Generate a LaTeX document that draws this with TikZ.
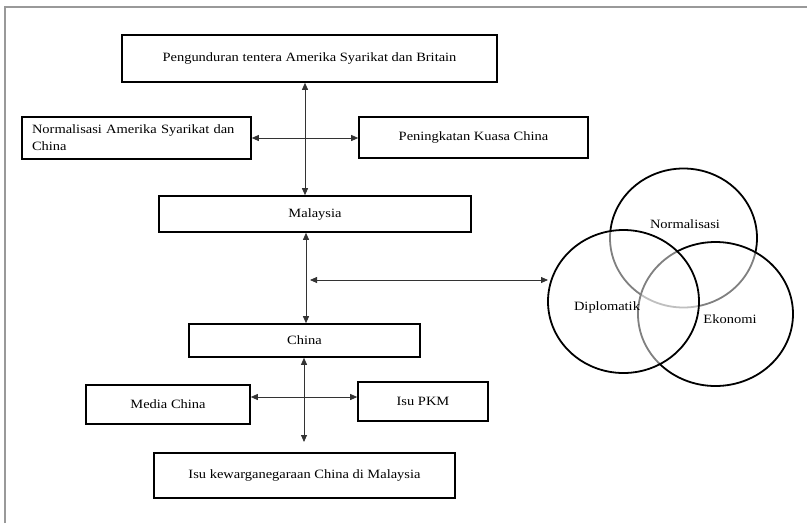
\documentclass[tikz,border=0pt]{standalone}
\usepackage{fontspec}
\setmainfont{Liberation Serif}[FakeStretch=1.14]
\usetikzlibrary{arrows.meta}
\begin{document}
\begin{tikzpicture}[x=1pt,y=-1pt,
  box/.style={draw=black,line width=1.6pt,inner sep=2pt,align=center,font=\fontsize{12.7}{17}\selectfont},
  conn/.style={draw=black!80,line width=0.8pt,{Triangle[length=7pt,width=6pt]}-{Triangle[length=7pt,width=6pt]}},
  ring/.style={draw=black,line width=1.8pt,fill=white,fill opacity=0.5},
  lbl/.style={font=\fontsize{12.7}{15}\selectfont,inner sep=0pt}]
\useasboundingbox (0,0) rectangle (807,523);
\draw[black!40,line width=1.5pt] (5,523) -- (5,7) -- (807,7);

% boxes
\node[box,minimum width=375pt,minimum height=47pt] (top) at (309.5,58.5) {Pengunduran tentera Amerika Syarikat dan Britain};
\node[box,minimum height=42pt,text width=209pt,inner xsep=10pt,align=left] (norm) at (136.5,138) {Normalisasi Amerika Syarikat dan\\China};
\node[box,minimum width=229pt,minimum height=41pt] (peng) at (473.5,137.5) {Peningkatan Kuasa China};
\node[box,minimum width=312pt,minimum height=36pt] (mal) at (315,214) {Malaysia};
\node[box,minimum width=231pt,minimum height=33pt] (chn) at (304.5,340.5) {China};
\node[box,minimum width=164pt,minimum height=39pt] (media) at (168,404.5) {Media China};
\node[box,minimum width=130pt,minimum height=39pt] (pkm) at (423,401.5) {Isu PKM};
\node[box,minimum width=301pt,minimum height=45pt] (bot) at (304.5,475.5) {Isu kewarganegaraan China di Malaysia};

% helper coordinates
\coordinate (v1) at (305,0);
\coordinate (v2) at (306,0);
\coordinate (v3) at (304,0);
\coordinate (h1) at (0,138);
\coordinate (h2) at (0,397);
\coordinate (mc) at (310,280);
\coordinate (dipw) at (548,280);
\coordinate (bend) at (304,442);

% venn
\draw[ring] (683.5,238) ellipse [x radius=73.5,y radius=69.5];
\draw[ring] (715.5,314) ellipse [x radius=77.5,y radius=72];
\draw[ring] (623.5,301.5) ellipse [x radius=75.5,y radius=71.5];
\node[lbl] (nor) at (685,224) {Normalisasi};
\node[lbl] (dip) at (607,307) {Diplomatik};
\node[lbl] (eko) at (730,319) {Ekonomi};

% connectors
\draw[conn] (top.south -| v1) -- (mal.north -| v1);
\draw[conn] (norm.east |- h1) -- (peng.west |- h1);
\draw[conn] (mal.south -| v2) -- (chn.north -| v2);
\draw[conn] (mc) -- (dipw);
\draw[conn] (chn.south -| v3) -- (bend);
\draw[conn] (media.east |- h2) -- (pkm.west |- h2);
\end{tikzpicture}
\end{document}
